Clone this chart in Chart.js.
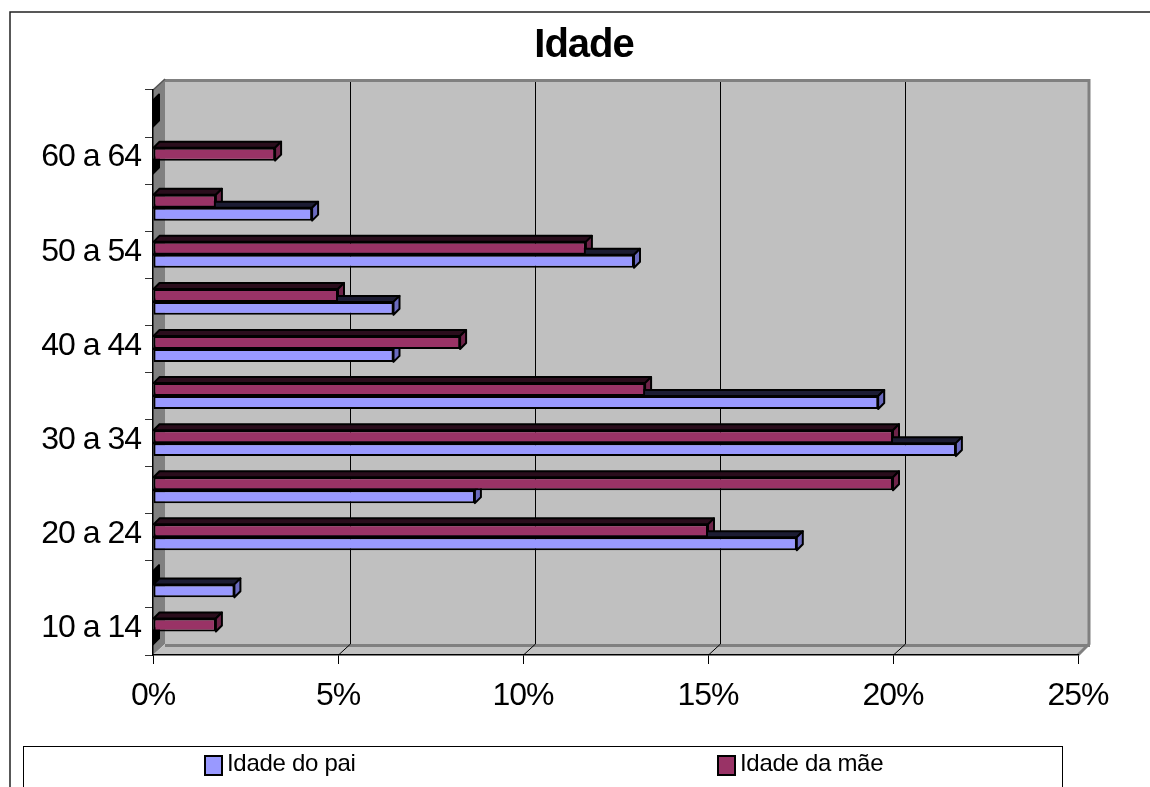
<!DOCTYPE html>
<html>
<head>
<meta charset="utf-8">
<script src="https://cdn.jsdelivr.net/npm/chart.js@4"></script>
<style>
  html, body { margin: 0; padding: 0; background: #fff; }
  canvas { display: block; }
</style>
</head>
<body>
<canvas id="chart" width="1150" height="787"></canvas>
<script>
// data (percent)
const ageGroups = ["10 a 14", "15 a 19", "20 a 24", "25 a 29", "30 a 34", "35 a 39",
                   "40 a 44", "45 a 49", "50 a 54", "55 a 59", "60 a 64", "65 a 69"];
const fatherPct = [0, 2.2, 17.4, 8.7, 21.7, 19.6, 6.5, 6.5, 13.0, 4.3, 0, 0];
const motherPct = [1.7, 0, 15.0, 20.0, 20.0, 13.3, 8.3, 5.0, 11.7, 1.7, 3.3, 0];
const xMax = 25;
const xStep = 5;

const FONT = "'Liberation Sans', Arial, sans-serif";
const DX = 12, DY = 11;   // depth of the 3d box
const BD = 6;             // depth of each bar

// 3d walls, floor, border and back gridlines
const backdrop = {
    id: "backdrop",
    beforeDraw(chart) {
        const ctx = chart.ctx;
        const { left: L, right: R, top: T, bottom: B } = chart.chartArea;
        const xs = chart.scales.x;
        ctx.letterSpacing = "-1px";
        ctx.save();
        ctx.fillStyle = "#fff";
        ctx.fillRect(0, 0, chart.width, chart.height);

        // outer frame
        ctx.strokeStyle = "#222";
        ctx.lineWidth = 1.5;
        ctx.strokeRect(10, 12, 1300, 1000);

        // back wall
        ctx.fillStyle = "#c0c0c0";
        ctx.fillRect(L + DX, T - DY, R - L, B - T);

        // left wall
        ctx.fillStyle = "#808080";
        ctx.beginPath();
        ctx.moveTo(L, T); ctx.lineTo(L + DX, T - DY); ctx.lineTo(L + DX, B - DY); ctx.lineTo(L, B);
        ctx.closePath(); ctx.fill();

        // floor
        ctx.fillStyle = "#c0c0c0";
        ctx.beginPath();
        ctx.moveTo(L, B); ctx.lineTo(L + DX, B - DY); ctx.lineTo(R + DX, B - DY); ctx.lineTo(R, B);
        ctx.closePath(); ctx.fill();

        ctx.strokeStyle = "#808080";
        ctx.lineWidth = 3;
        ctx.beginPath();
        ctx.moveTo(L + DX, B - DY + 1.5); ctx.lineTo(R + DX, B - DY + 1.5);
        ctx.moveTo(R, B); ctx.lineTo(R + DX - 1, B - DY);
        ctx.lineTo(R + DX - 1, T - DY + 1.5); ctx.lineTo(L + DX, T - DY + 1.5);
        ctx.stroke();

        // gridlines on back wall + floor
        ctx.strokeStyle = "#000";
        ctx.lineWidth = 1;
        xs.ticks.forEach(t => {
            if (t.value <= 0 || t.value >= xMax) return;
            const px = Math.round(xs.getPixelForValue(t.value)) + 0.5;
            ctx.beginPath();
            ctx.moveTo(px + DX, T - DY + 3); ctx.lineTo(px + DX, B - DY);
            ctx.moveTo(px, B); ctx.lineTo(px + DX, B - DY);
            ctx.stroke();
        });

        ctx.strokeStyle = "#555";
        ctx.lineWidth = 1.5;
        ctx.beginPath();
        ctx.moveTo(L, T); ctx.lineTo(L + DX, T - DY);
        ctx.stroke();
        ctx.restore();
    },
    afterLayout(chart) {
        // Excel centres the title over the whole chart object, which runs past the right edge
        const t = chart.titleBlock;
        if (t) { t.left = 0; t.right = 1168; t.width = 1168; }
    }
};

// top and side faces of each bar
const barDepth = {
    id: "barDepth",
    beforeDatasetsDraw(chart) {
        const ctx = chart.ctx;
        ctx.save();
        ctx.lineWidth = 2;
        ctx.strokeStyle = "#000";
        ctx.lineJoin = "round";
        chart.data.datasets.forEach((ds, i) => {
            const meta = chart.getDatasetMeta(i);
            meta.data.forEach(bar => {
                const p = bar.getProps(["x", "y", "base", "height"], true);
                const top = p.y - p.height / 2, bottom = p.y + p.height / 2;
                const flat = p.x - p.base < 1;
                // top face
                ctx.fillStyle = ds.topColor;
                ctx.beginPath();
                ctx.moveTo(p.base, top);
                ctx.lineTo(p.base + BD, top - BD);
                ctx.lineTo(p.x + BD, top - BD);
                ctx.lineTo(p.x, top);
                ctx.closePath();
                ctx.fill();
                ctx.stroke();
                // side face
                ctx.fillStyle = flat ? "#000" : ds.sideColor;
                ctx.beginPath();
                ctx.moveTo(p.x, top);
                ctx.lineTo(p.x + BD, top - BD);
                ctx.lineTo(p.x + BD, bottom - BD);
                ctx.lineTo(p.x, bottom);
                ctx.closePath();
                ctx.fill();
                ctx.stroke();
            });
        });
        ctx.restore();
    }
};

// boxed legend at the bottom
const legendSpots = [204, 717];
const boxLegend = {
    id: "boxLegend",
    afterDraw(chart) {
        const ctx = chart.ctx;
        ctx.save();
        ctx.letterSpacing = "-0.3px";
        ctx.strokeStyle = "#000";
        ctx.lineWidth = 1;
        ctx.strokeRect(23.5, 746.5, 1039, 100);
        // legend lists father first
        const items = chart.data.datasets.slice().reverse();
        items.forEach((ds, k) => {
            const x = legendSpots[k];
            ctx.fillStyle = ds.backgroundColor;
            ctx.fillRect(x + 1, 756, 17, 19);
            ctx.lineWidth = 2;
            ctx.strokeRect(x + 1, 756, 17, 19);
            ctx.fillStyle = "#000";
            ctx.font = "24px " + FONT;
            ctx.textBaseline = "middle";
            ctx.textAlign = "left";
            ctx.fillText(ds.label, x + 23, 764);
        });
        ctx.restore();
    }
};

new Chart(document.getElementById("chart"), {
    type: "bar",
    data: {
        labels: ageGroups,
        datasets: [
            {
                label: "Idade da mãe",
                data: motherPct,
                backgroundColor: "#993366",
                topColor: "#2a0d1c",
                sideColor: "#6e2449",
                borderColor: "#000",
                borderWidth: 2,
                borderSkipped: false
            },
            {
                label: "Idade do pai",
                data: fatherPct,
                backgroundColor: "#9999ff",
                topColor: "#1c1c33",
                sideColor: "#6b6bc0",
                borderColor: "#000",
                borderWidth: 2,
                borderSkipped: false
            }
        ]
    },
    options: {
        indexAxis: "y",
        responsive: false,
        animation: false,
        devicePixelRatio: 1,
        categoryPercentage: 0.55,
        barPercentage: 1,
        layout: { padding: { left: 0, right: 72, top: 0, bottom: 0 } },
        plugins: {
            legend: { display: false },
            tooltip: { enabled: false },
            title: {
                display: true,
                text: "Idade",
                color: "#000",
                font: { family: FONT, size: 40, weight: "bold", lineHeight: 1.2 },
                padding: { top: 22, bottom: 20 }
            }
        },
        scales: {
            x: {
                min: 0,
                max: xMax,
                afterFit(scale) { scale.height = 132; },
                ticks: {
                    stepSize: xStep,
                    color: "#000",
                    padding: 13,
                    font: { family: FONT, size: 32 },
                    callback: v => v + "%"
                },
                grid: { drawOnChartArea: false, tickLength: 9, color: "#000" },
                border: { color: "#000", width: 1.5 }
            },
            y: {
                reverse: true,
                afterFit(scale) { scale.width = 153; },
                ticks: {
                    autoSkip: false,
                    color: "#000",
                    padding: 4,
                    labelOffset: -3,
                    font: { family: FONT, size: 32 },
                    callback: (v, i) => (i % 2 === 0 ? ageGroups[i] : "")
                },
                grid: { drawOnChartArea: false, tickLength: 8, color: "#333", offset: true },
                border: { color: "#000", width: 1.5 }
            }
        }
    },
    plugins: [backdrop, barDepth, boxLegend]
});
</script>
</body>
</html>
